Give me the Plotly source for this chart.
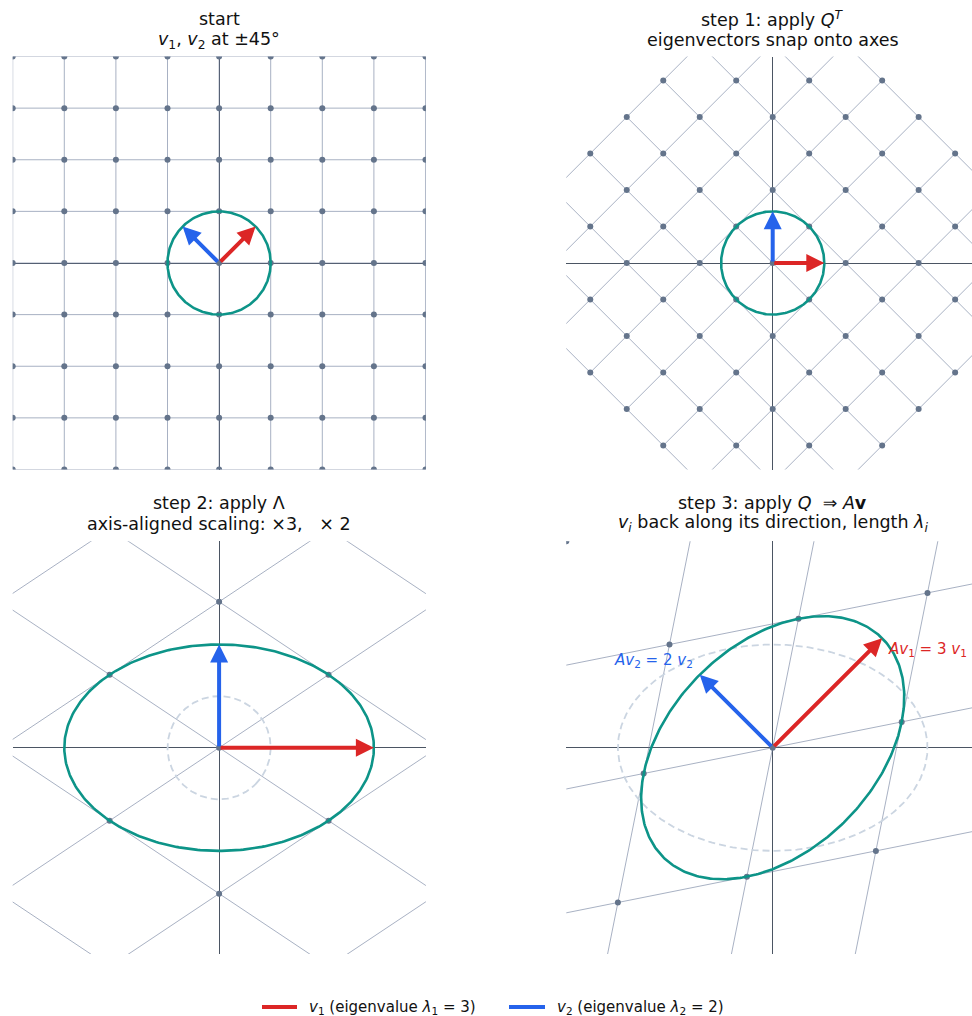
import numpy as np
import plotly.graph_objects as go

# ---- data -------------------------------------------------------------
EIGENVALUES = [3.0, 2.0]          # lambda_1, lambda_2
V1_ANGLE_DEG = 45.0               # direction of v1 (v2 is perpendicular)
LATTICE = [-4, -3, -2, -1, 0, 1, 2, 3, 4]   # integer grid lines / lattice points

TITLES = [
    ("start", "<i>v</i><sub>1</sub>, <i>v</i><sub>2</sub> at ±45°"),
    ("step 1: apply <i>Q</i><sup><i>T</i></sup>", "eigenvectors snap onto axes"),
    ("step 2: apply Λ", "axis-aligned scaling: ×3,\u00a0\u00a0\u00a0× 2"),
    ("step 3: apply <i>Q</i>\u00a0\u00a0⇒\u00a0<i>A</i><b>v</b>",
     "<i>v<sub>i</sub></i> back along its direction, length <i>λ<sub>i</sub></i>"),
]
LEGEND_NAMES = [
    "<i>v</i><sub>1</sub> (eigenvalue <i>λ</i><sub>1</sub> = 3)",
    "<i>v</i><sub>2</sub> (eigenvalue <i>λ</i><sub>2</sub> = 2)",
]
RESULT_LABELS = [
    "<i>Av</i><sub>1</sub> = 3 <i>v</i><sub>1</sub>",
    "<i>Av</i><sub>2</sub> = 2 <i>v</i><sub>2</sub>",
]

# ---- style ------------------------------------------------------------
RED, BLUE = "#dc2626", "#2563eb"
TEAL = "#0d9488"
DOT = "#64748b"
GRID = "rgba(110,125,155,0.6)"
AXIS = "#4b5563"
GHOST = "#cbd5e1"
FONT = "DejaVu Sans"
INK = "#111111"

W, H = 972, 1016
PX_X = [(12.7, 425.9), (566.3, 972.0)]
PX_Y = [(56.5, 469.5), (541.3, 954.1)]
PX_PER_UNIT = 51.6

# ---- linear algebra ---------------------------------------------------
th = np.deg2rad(V1_ANGLE_DEG)
Q = np.array([[np.cos(th), -np.sin(th)], [np.sin(th), np.cos(th)]])
L = np.diag(EIGENVALUES)
STAGES = [np.eye(2), Q.T, L @ Q.T, Q @ L @ Q.T]
v1, v2 = Q[:, 0], Q[:, 1]

t = np.linspace(0, 2 * np.pi, 361)
unit_circle = np.vstack([np.cos(t), np.sin(t)])

lo, hi = LATTICE[0], LATTICE[-1]


def grid_segments(M):
    xs, ys = [], []
    for k in LATTICE:
        for a, b in (((k, lo), (k, hi)), ((lo, k), (hi, k))):
            p = M @ np.array(a, float)
            q = M @ np.array(b, float)
            xs += [p[0], q[0], None]
            ys += [p[1], q[1], None]
    return xs, ys


def lattice_points(M):
    pts = np.array([[i, j] for i in LATTICE for j in LATTICE], float).T
    return M @ pts


fig = go.Figure()
annotations = []
shapes = []

for p, M in enumerate(STAGES):
    row, col = divmod(p, 2)
    n = "" if p == 0 else str(p + 1)
    xa, ya = f"x{n}", f"y{n}"

    gx, gy = grid_segments(M)
    fig.add_trace(go.Scatter(x=gx, y=gy, mode="lines", xaxis=xa, yaxis=ya,
                             line=dict(color=GRID, width=1), hoverinfo="skip"))
    pts = lattice_points(M)
    fig.add_trace(go.Scatter(x=pts[0], y=pts[1], mode="markers", xaxis=xa, yaxis=ya,
                             marker=dict(color=DOT, size=6), hoverinfo="skip",
                             cliponaxis=True))
    if p >= 2:
        prev = STAGES[p - 1] @ unit_circle
        fig.add_trace(go.Scatter(x=prev[0], y=prev[1], mode="lines", xaxis=xa, yaxis=ya,
                                 line=dict(color=GHOST, width=1.8, dash="7px,4px"),
                                 hoverinfo="skip"))
    ell = M @ unit_circle
    fig.add_trace(go.Scatter(x=ell[0], y=ell[1], mode="lines", xaxis=xa, yaxis=ya,
                             line=dict(color=TEAL, width=2.6), hoverinfo="skip"))

    for vec, color in ((v1, RED), (v2, BLUE)):
        tip = M @ vec
        annotations.append(dict(x=tip[0], y=tip[1], ax=0, ay=0, xref=xa, yref=ya,
                                axref=xa, ayref=ya, text="", showarrow=True,
                                arrowhead=2, arrowsize=0.9, arrowwidth=4,
                                arrowcolor=color, standoff=0))

    x0, x1 = PX_X[col]
    y0, y1 = PX_Y[row]
    xr = [-4.0, -4.0 + (x1 - x0) / PX_PER_UNIT]
    yr = [-4.0, 4.0]
    axis_common = dict(showgrid=False, showticklabels=False, ticks="", showline=False,
                       zeroline=True, zerolinecolor=AXIS, zerolinewidth=1,
                       fixedrange=True)
    fig.layout[f"xaxis{n}"] = dict(domain=[x0 / W, x1 / W], range=xr, anchor=ya,
                                   **axis_common)
    fig.layout[f"yaxis{n}"] = dict(domain=[1 - y1 / H, 1 - y0 / H], range=yr, anchor=xa,
                                   **axis_common)

    # two-line panel title
    cx = (x0 + 4.0 * PX_PER_UNIT) / W
    for line, offset in zip(TITLES[p], (37.5 + row, 16.5 + row)):
        annotations.append(dict(x=cx, y=1 - (y0 - offset) / H, xref="paper", yref="paper",
                                text=line, showarrow=False, xanchor="center",
                                yanchor="middle",
                                font=dict(family=FONT, size=17.5, color=INK)))

# result labels in the last panel
A = STAGES[3]
tip1 = A @ v1
tip2 = A @ v2
annotations.append(dict(x=tip1[0], y=tip1[1], xref="x4", yref="y4", text=RESULT_LABELS[0],
                        showarrow=False, xanchor="left", yanchor="middle",
                        xshift=4, yshift=-11, font=dict(family=FONT, size=15, color=RED)))
annotations.append(dict(x=tip2[0], y=tip2[1], xref="x4", yref="y4", text=RESULT_LABELS[1],
                        showarrow=False, xanchor="right", yanchor="middle",
                        xshift=-5, yshift=14, font=dict(family=FONT, size=15, color=BLUE)))

# legend row along the bottom edge
LEGEND_Y = 1 - 1007 / H
for name, color, (lx0, lx1) in zip(LEGEND_NAMES, (RED, BLUE), ((262, 297), (509, 545))):
    shapes.append(dict(type="line", xref="paper", yref="paper",
                       x0=lx0 / W, x1=lx1 / W, y0=LEGEND_Y, y1=LEGEND_Y,
                       line=dict(color=color, width=4)))
    annotations.append(dict(x=(lx1 + 10) / W, y=LEGEND_Y, xref="paper", yref="paper",
                            text=name, showarrow=False, xanchor="left", yanchor="middle",
                            font=dict(family=FONT, size=15, color=INK)))

fig.update_layout(
    width=W, height=H,
    margin=dict(l=0, r=0, t=0, b=0),
    paper_bgcolor="white", plot_bgcolor="white",
    font=dict(family=FONT, size=15, color=INK),
    annotations=annotations,
    shapes=shapes,
    showlegend=False,
    hovermode=False,
)

fig.write_html("out.html")
